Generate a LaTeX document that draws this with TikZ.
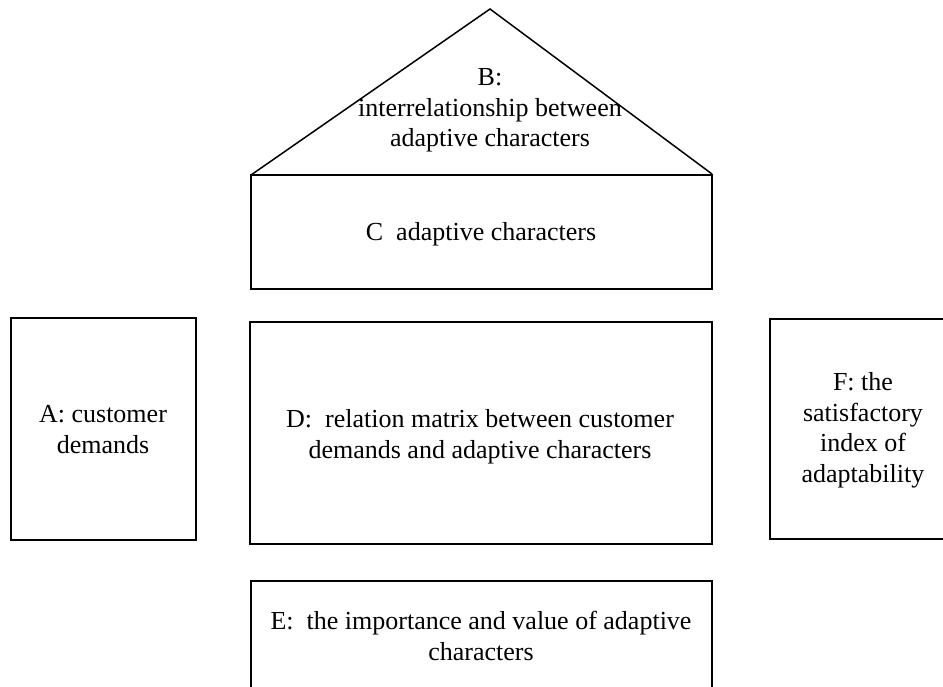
\documentclass[tikz,border=0pt]{standalone}
\usepackage{fontspec}
\setmainfont{Liberation Serif}
\begin{document}
\begin{tikzpicture}[x=1pt,y=-1pt,
  box/.style={draw=black,line width=1.5pt,inner sep=0pt},
  lbl/.style={align=center,inner sep=0pt,font=\fontsize{26pt}{30.5pt}\selectfont,anchor=base}]
\useasboundingbox (0,0) rectangle (943,687);
% roof
\coordinate (apex) at (490,9);
\coordinate (bl) at (251,175);
\coordinate (br) at (712,174);
\draw[line width=1.5pt,line join=miter] (bl) -- (apex) -- (br);
% boxes
\node[box,minimum width=461pt,minimum height=114pt] (C) at (481.5,232) {};
\node[box,minimum width=185pt,minimum height=222pt] (A) at (103.5,429) {};
\node[box,minimum width=462pt,minimum height=222pt] (D) at (481,433) {};
\node[box,minimum width=180pt,minimum height=220pt] (F) at (860,429) {};
\node[box,minimum width=461pt,minimum height=119pt] (E) at (481.5,640.5) {};
% texts (anchor base = baseline of last line)
\node[lbl] (Bt) at (490,147) {B:\\interrelationship between\\adaptive characters};
\node[lbl] (Ct) at (481,241) {C~ adaptive characters};
\node[lbl] (At) at (103,453) {A: customer\\demands};
\node[lbl] (Dt) at (480,458) {D:~ relation matrix between customer\\demands and adaptive characters};
\node[lbl] (Ft) at (863,482) {F: the\\satisfactory\\index of\\adaptability};
\node[lbl] (Et) at (481,660) {E:~ the importance and value of adaptive\\characters};
\end{tikzpicture}
\end{document}
